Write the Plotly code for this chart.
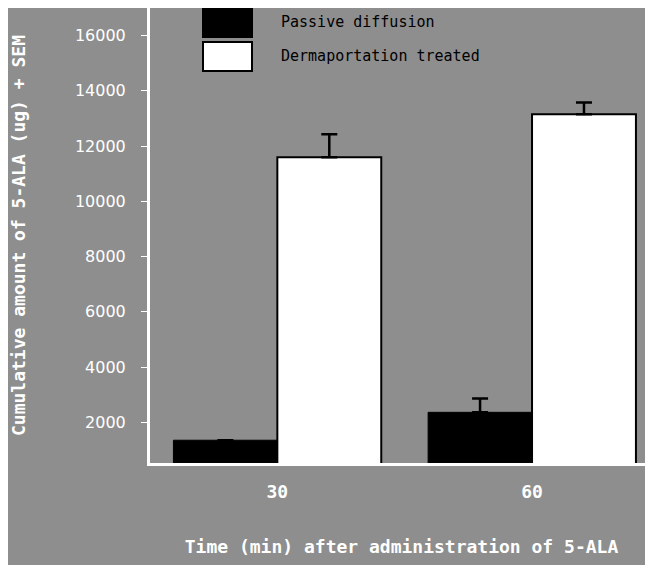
import plotly.graph_objects as go

categories = ["30", "60"]
passive = [1350, 2360]
passive_err = [0, 500]
derma = [11600, 13150]
derma_err = [830, 430]
yticks = [2000, 4000, 6000, 8000, 10000, 12000, 14000, 16000]
series_names = ["Passive diffusion", "Dermaportation treated"]

bg = "#8e8e8e"
# the page adds an 8 px body margin, so the figure is sized for the remaining space
OFF = 8
FW, FH = 653 - OFF, 565 - OFF
fig = go.Figure()
fig.add_trace(go.Bar(
    x=categories, y=passive, name=series_names[0],
    marker=dict(color="black", line=dict(color="black", width=1)),
    error_y=dict(type="data", symmetric=False, array=passive_err,
                 arrayminus=[0, 0], visible=True, color="black", thickness=2.5, width=8),
    showlegend=False,
))
fig.add_trace(go.Bar(
    x=categories, y=derma, name=series_names[1],
    marker=dict(color="white", line=dict(color="black", width=2)),
    error_y=dict(type="data", symmetric=False, array=derma_err,
                 arrayminus=[0, 0], visible=True, color="black", thickness=2.5, width=8),
    showlegend=False,
))

font_fam = "DejaVu Sans Mono, monospace"
pl, pr, pt, pb = 150 - OFF, 653 - OFF, 0, 463 - OFF
fig.update_layout(
    width=FW, height=FH,
    paper_bgcolor=bg, plot_bgcolor=bg,
    margin=dict(l=pl, r=FW - pr, t=pt, b=FH - pb),
    barmode="group", bargap=0.184, bargroupgap=0,
    xaxis=dict(
        type="category", range=[-0.5, 1.475],
        showline=True, linecolor="white", linewidth=3,
        ticks="", showgrid=False, ticklabelstandoff=10,
        tickfont=dict(color="white", size=18, family=font_fam, weight="bold"),
        title=dict(text="<b>Time (min) after administration of 5-ALA</b>",
                   font=dict(color="white", size=18, family=font_fam), standoff=40),
    ),
    yaxis=dict(
        range=[525, 17000], tickvals=yticks,
        ticktext=[str(v) for v in yticks],
        showline=True, linecolor="white", linewidth=3,
        ticks="outside", ticklen=6, tickcolor="white", tickwidth=1,
        showgrid=False, zeroline=False, ticklabelstandoff=12,
        tickfont=dict(color="white", size=16, family="DejaVu Sans, sans-serif"),
        title=dict(text="<b>Cumulative amount of 5-ALA (ug) + SEM</b>",
                   font=dict(color="white", size=18, family=font_fam), standoff=48),
    ),
)

def px(x): return (x - OFF - pl) / (pr - pl)
def py(y): return (pb - (y - OFF)) / (pb - pt)
fills = ["black", "white"]
boxes_y = [(8, 37), (42, 71)]
for name, fill, (y0, y1) in zip(series_names, fills, boxes_y):
    fig.add_shape(type="rect", xref="paper", yref="paper",
                  x0=px(203), x1=px(252), y0=py(y1), y1=py(y0),
                  fillcolor=fill, line=dict(color="black", width=2))
    fig.add_annotation(xref="paper", yref="paper", x=px(279), y=py((y0 + y1) / 2),
                       text=name, showarrow=False, xanchor="left", yanchor="middle",
                       font=dict(color="black", size=15, family=font_fam))

fig.write_html("out.html")
